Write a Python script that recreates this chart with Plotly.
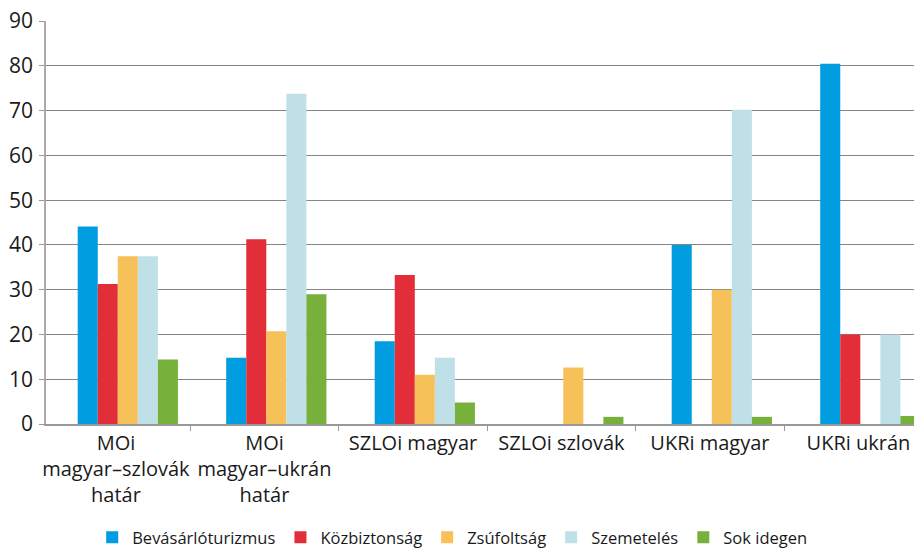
import plotly.graph_objects as go

# Categories and series values
categories = [
    "MOi<br>magyar–szlovák<br>határ",
    "MOi<br>magyar–ukrán<br>határ",
    "SZLOi magyar",
    "SZLOi szlovák",
    "UKRi magyar",
    "UKRi ukrán",
]
series_names = ["Bevásárlóturizmus", "Közbiztonság", "Zsúfoltság", "Szemetelés", "Sok idegen"]
bevasarloturizmus = [44.1, 14.8, 18.5, None, 40.0, 80.5]
kozbiztonsag = [31.3, 41.3, 33.3, None, None, 20.0]
zsufoltsag = [37.5, 20.7, 11.0, 12.6, 30.0, None]
szemeteles = [37.5, 73.8, 14.8, None, 70.2, 20.0]
sok_idegen = [14.4, 29.0, 4.8, 1.6, 1.6, 1.8]
y_ticks = [0, 10, 20, 30, 40, 50, 60, 70, 80, 90]

colors = ["#009DE0", "#E12E38", "#F7C15A", "#C0E0E8", "#77B03A"]
series_values = [bevasarloturizmus, kozbiztonsag, zsufoltsag, szemeteles, sok_idegen]

FONT = "Open Sans, Noto Sans, sans-serif"
bar_w = 0.135   # width of one bar in category units
shift = 0.08    # bar group sits slightly right of the category centre

fig = go.Figure()
for i, (name, vals, col) in enumerate(zip(series_names, series_values, colors)):
    fig.add_trace(go.Bar(
        x=categories,
        y=vals,
        name=name,
        marker=dict(color=col, line=dict(width=0)),
        width=bar_w,
        offset=shift - 2.5 * bar_w + i * bar_w,
    ))

# the page body adds an 8px margin, so the figure is sized 8px smaller
fig.update_layout(
    width=914,
    height=541,
    margin=dict(l=38, r=0, t=13, b=125),
    paper_bgcolor="white",
    plot_bgcolor="white",
    barmode="group",
    font=dict(family=FONT, color="#1a1a1a"),
    showlegend=True,
    legend=dict(
        orientation="h",
        xref="container", yref="container",
        x=0.486, xanchor="center",
        y=0.021, yanchor="middle",
        font=dict(size=16.5, family=FONT, color="#1a1a1a"),
        itemwidth=30,
        tracegroupgap=0,
    ),
    xaxis=dict(
        type="category",
        range=[-0.471, 5.428],
        showline=True, linecolor="#999999", linewidth=2,
        ticks="outside", tickson="boundaries", ticklen=5, tickcolor="#999999",
        showgrid=False,
        tickangle=0,
        automargin=False,
        tickfont=dict(size=20, family=FONT, color="#1a1a1a"),
    ),
    yaxis=dict(
        range=[0, 90.03],
        tickvals=y_ticks,
        showline=True, linecolor="#aaaaaa", linewidth=1.5,
        ticks="outside", ticklen=5, tickcolor="#999999",
        showgrid=True, gridcolor="#858585", gridwidth=1,
        zeroline=False,
        automargin=False,
        ticklabeloverflow="allow",
        ticklabelstandoff=2,
        tickfont=dict(size=21, family=FONT, color="#1a1a1a"),
    ),
)

fig.write_html("out.html")
